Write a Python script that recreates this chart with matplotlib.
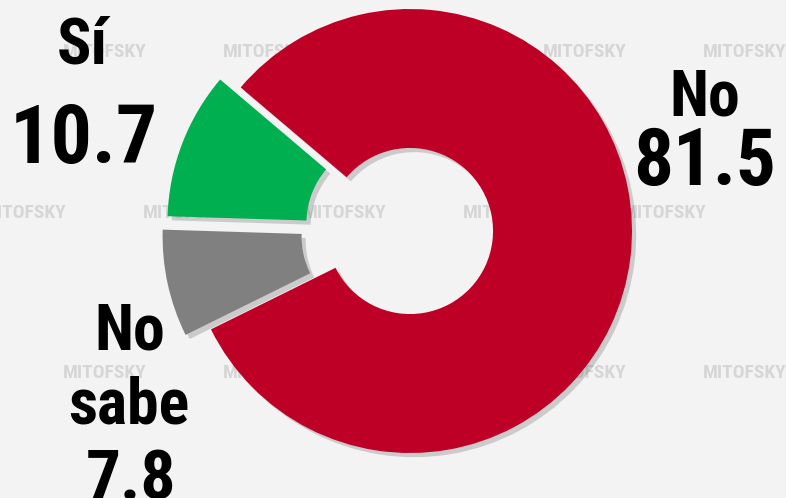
import matplotlib.pyplot as plt
import matplotlib.patheffects as pe

# survey answers
labels = ['Sí', 'No sabe', 'No']
values = [10.7, 7.8, 81.5]
colors = ['#00B050', '#808080', '#BE0027']

FONT = ['Roboto Condensed', 'Liberation Sans', 'DejaVu Sans']
W, H = 786, 498
R = 222                      # outer radius in pixels
explode = [22, 26, 0]        # pie() takes explode in data units

fig = plt.figure(figsize=(W / 100, H / 100), dpi=100)
fig.patch.set_facecolor('#f3f3f3')
ax = fig.add_axes([0, 0, 1, 1])

# faint watermark grid in the background
for row, y in enumerate([446, 285, 125]):
    xs = [25, 185, 345, 505, 665] if row == 1 else [105, 265, 425, 585, 745]
    for x in xs:
        ax.text(x, y, 'MITOFSKY', ha='center', va='center', fontsize=14,
                fontweight='bold', color='#d6d6d6', family=FONT, zorder=0)

wedges, _ = ax.pie(values, colors=colors, explode=explode, startangle=139.7,
                   counterclock=True, center=(410, 267), radius=R,
                   wedgeprops=dict(width=R * 0.626, linewidth=0), frame=True)
ax.set_xlim(0, W)
ax.set_ylim(0, H)
ax.set_aspect('equal')
ax.axis('off')
for w in wedges:
    w.set_path_effects([pe.SimplePatchShadow(offset=(3, -3), alpha=0.25,
                                             shadow_rgbFace='#555555'),
                        pe.Normal()])

txt = dict(ha='center', va='baseline', fontweight='bold', color='black', family=FONT)
ax.text(82, 435, labels[0], fontsize=46, **txt)
ax.text(84, 335, f'{values[0]}', fontsize=59, **txt)
ax.text(705, 383, labels[2], fontsize=46, **txt)
ax.text(705, 313, f'{values[2]}', fontsize=57, **txt)
ax.text(130, 148, 'No', fontsize=46, **txt)
ax.text(129, 75, 'sabe', fontsize=46, **txt)
ax.text(131, -2, f'{values[1]}', fontsize=50, **txt)

fig.savefig('out.png', dpi=100, facecolor=fig.get_facecolor())
